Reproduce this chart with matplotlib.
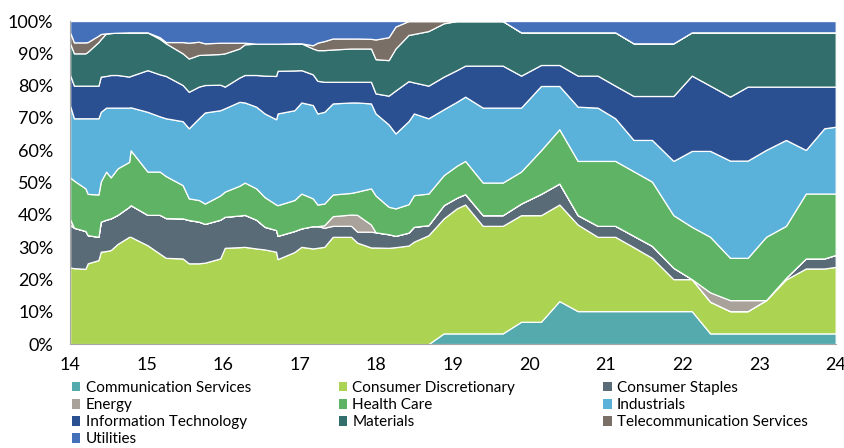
import matplotlib
matplotlib.use('Agg')
import matplotlib.pyplot as plt
from matplotlib.patches import Patch
from matplotlib.ticker import PercentFormatter
import numpy as np

plt.rcParams['font.family'] = ['Lato', 'DejaVu Sans']

years = [2014.00, 2014.05, 2014.20, 2014.23, 2014.37, 2014.40, 2014.47, 2014.53,
         2014.62, 2014.77, 2014.79, 2015.01, 2015.17, 2015.25, 2015.47, 2015.55,
         2015.68, 2015.76, 2015.96, 2016.02, 2016.21, 2016.28, 2016.43, 2016.54,
         2016.69, 2016.71, 2016.93, 2017.02, 2017.17, 2017.23, 2017.32, 2017.43,
         2017.67, 2017.75, 2017.93, 2017.99, 2018.16, 2018.25, 2018.42, 2018.49,
         2018.68, 2018.88, 2019.05, 2019.16, 2019.39, 2019.65, 2019.89, 2020.15,
         2020.39, 2020.63, 2020.89, 2021.12, 2021.36, 2021.60, 2021.88, 2022.12,
         2022.36, 2022.62, 2022.85, 2023.09, 2023.35, 2023.61, 2023.85, 2024.00]

comm_services = [0]*41 + [3.3]*5 + [6.9, 6.9, 13.3] + [10.2]*7 + [3.3]*8

cons_disc = [23.7, 23.5, 23.3, 25.0, 26.0, 28.6, 28.8, 29.1,
             31.0, 33.2, 33.2, 30.6, 28.0, 26.7, 26.5, 25.0,
             25.0, 25.2, 26.5, 29.8, 30.0, 30.1, 29.6, 29.3,
             28.6, 26.3, 28.5, 30.1, 29.6, 29.8, 30.1, 33.2,
             33.2, 31.4, 29.9, 29.9, 29.8, 30.0, 30.5, 31.7,
             33.7, 35.6, 38.7, 39.9, 33.3, 33.3, 33.0, 33.0,
             29.9, 26.8, 23.0, 23.0, 19.8, 16.5, 9.9, 9.9,
             9.8, 6.9, 6.9, 10.3, 16.7, 20.1, 20.1, 20.6]

cons_staples = [13.1, 12.5, 11.7, 8.7, 7.2, 9.3, 9.7, 9.8,
                9.0, 9.3, 9.8, 9.4, 12.0, 12.3, 12.4, 13.4,
                12.9, 12.0, 12.0, 9.6, 9.8, 9.9, 8.9, 7.0,
                6.7, 7.2, 6.5, 5.7, 6.9, 6.7, 5.9, 3.4,
                3.4, 3.4, 4.9, 4.7, 4.2, 3.5, 4.0, 4.6,
                3.1, 4.1, 3.3, 3.2, 3.3, 3.3, 3.6, 6.6,
                6.5, 2.9, 3.4, 3.4, 3.5, 3.7, 3.5, 0,
                0, 0, 0, 0, 0.5, 3.1, 3.1, 3.7]

energy = [1.9, 0, 0, 0, 0, 0, 0, 0,
          0, 0, 0, 0, 0, 0, 0, 0,
          0, 0, 0, 0, 0, 0, 0, 0,
          0, 0, 0, 0, 0, 0, 0.8, 3.0,
          3.5, 5.2, 2.2, 0, 0, 0, 0, 0,
          0, 0, 0, 0, 0, 0, 0, 0,
          0, 0, 0, 0, 0, 0, 0, 0,
          2.9, 3.4, 3.4, 0, 0, 0, 0, 0]

health_care = [12.9, 14.6, 13.2, 12.8, 13.1, 12.4, 14.9, 12.7,
               14.4, 13.9, 17.0, 13.4, 13.4, 13.0, 10.3, 6.7,
               6.7, 6.3, 7.5, 7.8, 9.2, 10.0, 9.7, 9.2,
               7.9, 9.5, 9.6, 10.8, 8.6, 6.7, 6.7, 6.7,
               6.7, 7.2, 11.2, 11.4, 8.5, 8.5, 8.8, 9.8,
               9.8, 9.3, 9.9, 10.3, 10.1, 10.1, 9.9, 13.5,
               16.8, 16.8, 20.1, 20.1, 20.0, 19.9, 16.3, 16.2,
               17.2, 13.1, 13.1, 19.6, 16.1, 20.1, 20.1, 19.0]

industrials = [22.2, 19.3, 21.7, 23.4, 23.6, 21.6, 19.8, 21.6,
               18.8, 16.8, 13.3, 18.5, 17.1, 17.9, 19.8, 21.7,
               25.3, 28.2, 26.4, 25.8, 26.0, 24.8, 25.3, 25.9,
               26.4, 28.4, 27.8, 28.2, 28.9, 28.2, 28.4, 28.2,
               28.0, 27.6, 26.3, 25.4, 25.5, 23.2, 25.7, 25.3,
               23.3, 20.4, 19.8, 19.9, 23.2, 23.2, 19.8, 19.9,
               13.4, 16.8, 16.5, 13.2, 9.7, 12.9, 16.8, 23.5,
               26.6, 30.1, 30.1, 26.9, 26.6, 13.5, 20.2, 20.7]

info_tech = [9.5, 10.1, 10.1, 10.1, 10.1, 10.9, 9.8, 10.1,
             10.1, 9.6, 9.7, 12.9, 13.0, 13.1, 11.2, 11.3,
             9.8, 8.5, 7.9, 6.7, 7.5, 8.5, 9.8, 11.7,
             13.4, 13.2, 12.3, 10.0, 9.5, 10.1, 9.3, 6.7,
             6.4, 6.4, 6.7, 6.2, 8.9, 13.3, 12.4, 9.6,
             10.1, 10.1, 9.8, 9.6, 13.0, 13.0, 9.9, 6.5,
             6.5, 9.6, 9.9, 10.1, 13.6, 13.6, 20.1, 23.3,
             20.2, 19.8, 22.9, 19.6, 16.5, 19.6, 12.9, 12.4]

materials = [9.8, 10.0, 10.0, 10.5, 13.5, 11.6, 13.2, 13.0,
             13.1, 13.7, 13.5, 11.7, 11.0, 10.1, 9.8, 10.3,
             9.8, 9.4, 9.5, 10.3, 9.0, 9.5, 9.7, 9.9,
             10.0, 8.4, 8.4, 8.3, 8.0, 9.5, 9.8, 10.0,
             10.3, 10.3, 10.3, 10.6, 11.0, 13.0, 14.3, 15.0,
             16.9, 16.5, 15.2, 13.8, 13.8, 13.8, 13.4, 10.1,
             10.1, 13.4, 13.4, 16.5, 16.3, 16.3, 16.3, 13.4,
             16.5, 19.9, 16.8, 16.8, 16.8, 16.8, 16.8, 16.8]

telecom = [3.4, 3.4, 3.4, 3.0, 2.0, 1.6, 0, 0,
           0, 0, 0, 0, 0.5, 0.4, 3.5, 4.9,
           4.1, 3.5, 3.5, 3.3, 1.8, 0.5, 0, 0,
           0, 0, 0, 0, 1.0, 2.3, 2.8, 3.4,
           3.1, 3.1, 3.0, 6.1, 7.1, 6.8, 4.3, 4.0,
           3.1, 0.7, 0, 0, 0, 0, 0, 0,
           0, 0, 0, 0, 0, 0, 0, 0,
           0, 0, 0, 0, 0, 0, 0, 0]

utilities = [3.5, 6.6, 6.6, 6.5, 4.5, 4.0, 3.8, 3.7,
             3.6, 3.5, 3.5, 3.5, 5.0, 6.5, 6.5, 6.7,
             6.4, 6.9, 6.7, 6.7, 6.7, 6.7, 7.0, 7.0,
             7.0, 7.0, 6.9, 6.9, 7.5, 6.7, 6.2, 5.4,
             5.4, 5.4, 5.5, 5.7, 5.0, 1.7, 0, 0,
             0, 0, 0, 0, 0, 0, 3.5, 3.5,
             3.5, 3.5, 3.5, 3.5, 6.9, 6.9, 6.9, 3.5,
             3.5, 3.5, 3.5, 3.5, 3.5, 3.5, 3.5, 3.5]

labels = ['Communication Services', 'Consumer Discretionary', 'Consumer Staples',
          'Energy', 'Health Care', 'Industrials', 'Information Technology',
          'Materials', 'Telecommunication Services', 'Utilities']
colors = ['#55aaae', '#acd452', '#5a6b78', '#a8a29b', '#5eb364',
          '#5ab2da', '#2b5092', '#326e6c', '#7a6f66', '#4470ba']

series = np.array([comm_services, cons_disc, cons_staples, energy, health_care,
                   industrials, info_tech, materials, telecom, utilities], dtype=float)
# 100% stacked, like the excel original
series = series / series.sum(axis=0) * 100

fig = plt.figure(figsize=(8.45, 4.48), dpi=100)
ax = fig.add_axes([0.083, 0.232, 0.906, 0.721])
ax.stackplot(years, series, colors=colors, edgecolor='white', linewidth=0.9)

ax.set_xlim(2014, 2024)
ax.set_ylim(0, 100)
ax.set_xticks(range(2014, 2025))
ax.set_xticklabels([str(y - 2000) for y in range(2014, 2025)])
ax.set_yticks(range(0, 101, 10))
ax.yaxis.set_major_formatter(PercentFormatter(decimals=0))
ax.tick_params(axis='both', length=0, labelsize=13, colors='black')
ax.tick_params(axis='y', pad=12)
ax.tick_params(axis='x', pad=9)
for s in ['top', 'right']:
    ax.spines[s].set_visible(False)
for s in ['left', 'bottom']:
    ax.spines[s].set_color('#a6a6a6')

# reorder so that the 3-column legend reads row by row
order = [0, 3, 6, 9, 1, 4, 7, 2, 5, 8]
handles = [Patch(facecolor=colors[i], label=labels[i]) for i in order]
fig.legend(handles=handles, loc='upper left', bbox_to_anchor=(0.076, 0.166),
           ncol=3, frameon=False, fontsize=11, handlelength=0.55, handleheight=0.55,
           handletextpad=0.35, columnspacing=5.75, labelspacing=0.2, borderpad=0)

plt.savefig('out.png', dpi=100)
